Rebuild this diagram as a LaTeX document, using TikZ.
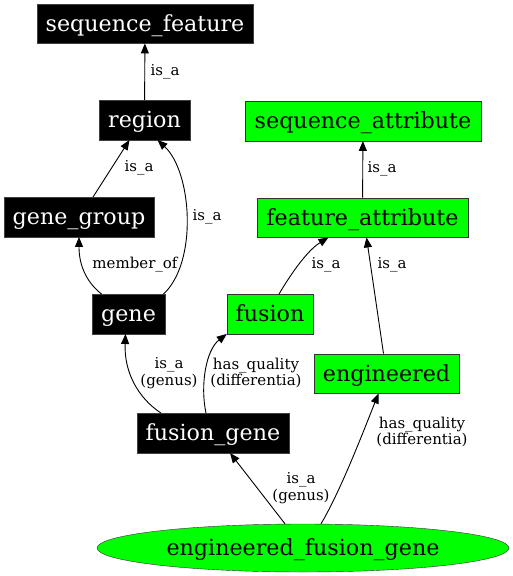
\documentclass[tikz,border=0pt]{standalone}
\usepackage{fontspec}
\setmainfont{DejaVu Serif}
\usetikzlibrary{arrows.meta, shapes.geometric}

\begin{document}
\begin{tikzpicture}[
    % GLOBAL CFG
    x=1pt, y=-1pt,
    >={Triangle[length=10pt,width=8pt]},
    % Styles
    term/.style={% For the black terms
        rectangle,
        draw=black!75,
        fill=black,
        text=white,
        inner sep=0pt,
        minimum height=39.5pt,
        text height=15.5pt,
        text depth=0pt,
        font=\fontsize{22.2}{24}\selectfont,
        },
    attr/.style={% For the green attributes
        rectangle,
        draw=black!80,
        fill=green,
        inner sep=0pt,
        minimum height=39.5pt,
        text height=15.5pt,
        text depth=0pt,
        font=\fontsize{22.2}{24}\selectfont,
        },
    focus/.style={% For the term in question
        ellipse,
        draw=black!80,
        fill=green,
        inner sep=0pt,
        minimum width=412pt,
        minimum height=48pt,
        text height=15.5pt,
        text depth=0pt,
        font=\fontsize{22.2}{24}\selectfont,
        },
    elabel/.style={% For the relation names
        align=center,
        inner sep=0pt,
        font=\fontsize{15}{16.5}\selectfont,
        },
    rel/.style={% Edges
        ->,
        line width=.9pt,
        },
    ]

    \useasboundingbox (0,0) rectangle (513,576);

    % Draw black terms
    \node [term, minimum width=216pt] (sf) at (145,23.5) {sequence\_feature};
    \node [term, minimum width=91pt] (reg) at (144.5,120) {region};
    \node [term, minimum width=150pt] (gg) at (79,217) {gene\_group};
    \node [term, minimum width=73pt] (gene) at (128.5,314) {gene};
    \node [term, minimum width=152pt] (fg) at (213,433) {fusion\_gene};

    % Draw green attributes
    \node [attr, minimum width=236pt] (sa) at (363,121) {sequence\_attribute};
    \node [attr, minimum width=211pt] (fa) at (362.5,217.5) {feature\_attribute};
    \node [attr, minimum width=86pt] (fus) at (270,314) {fusion};
    \node [attr, minimum width=145pt] (eng) at (386.5,373.5) {engineered};

    % Draw the term in question
    \node [focus] (efg) at (303,548) {engineered\_fusion\_gene};

% Start connecting all.
    \draw [rel] (reg) -- (sf);
    \draw [rel] ([xshift=14pt]gg.north) -- ([xshift=-15pt]reg.south);
    \draw [rel] ([xshift=35pt]gene.north) .. controls (198,262) and (192,172) .. ([xshift=13pt]reg.south);
    \draw [rel] ([xshift=-27pt]gene.north) .. controls (84,280) and (79,262) .. (gg.south);
    \draw [rel] ([xshift=-52pt]fg.north) .. controls (138,398) and (124,372) .. ([xshift=-3pt]gene.south);
    \draw [rel] ([xshift=-7pt]fg.north) .. controls (200,385) and (206,350) .. (fus.south west);
    \draw [rel] ([xshift=9pt]fus.north) .. controls (292,272) and (308,250) .. ([xshift=-34pt]fa.south);
    \draw [rel] ([xshift=-3pt]eng.north) -- ([xshift=4pt]fa.south);
    \draw [rel] (fa) -- (sa);
    \draw [rel] ([xshift=-18pt]efg.north) -- ([xshift=17pt]fg.south);
    \draw [rel] ([xshift=18pt]efg.north) .. controls (340,492) and (362,435) .. ([xshift=-8pt]eng.south);

    % Relation labels
    \node [elabel] (l1) at (165,72) {is\_a};
    \node [elabel] (l2) at (139,168) {is\_a};
    \node [elabel] (l3) at (207,217) {is\_a};
    \node [elabel] (l4) at (135,265) {member\_of};
    \node [elabel] (l5) at (169,373) {is\_a\\(genus)};
    \node [elabel] (l6) at (256,373) {has\_quality\\(differentia)};
    \node [elabel] (l7) at (326,265) {is\_a};
    \node [elabel] (l8) at (392,265) {is\_a};
    \node [elabel] (l9) at (382,169) {is\_a};
    \node [elabel] (l10) at (301,488) {is\_a\\(genus)};
    \node [elabel] (l11) at (422,432) {has\_quality\\(differentia)};

\end{tikzpicture}
\end{document}
